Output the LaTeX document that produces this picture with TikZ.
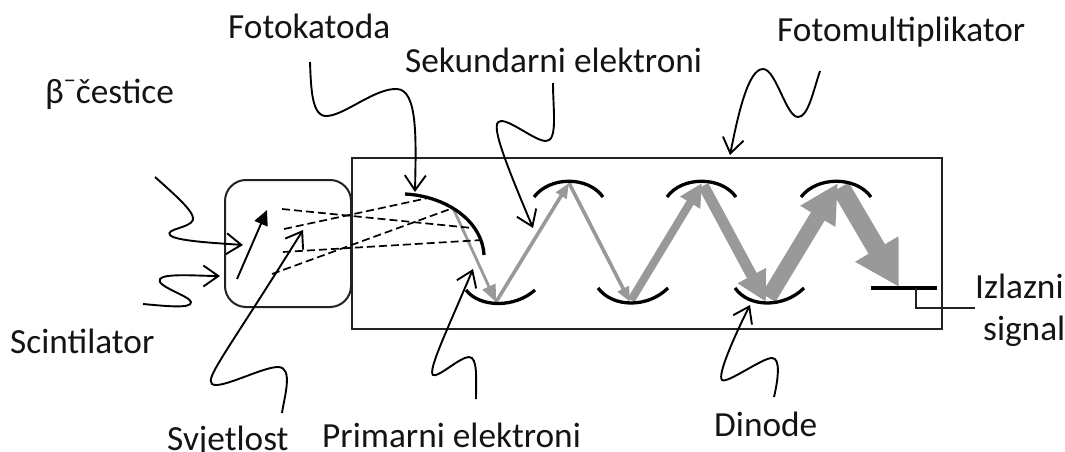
\documentclass[tikz,border=0pt]{standalone}
\usepackage{fontspec}
\setmainfont{Carlito}
\usetikzlibrary{arrows.meta}
\definecolor{elgray}{HTML}{999999}
\definecolor{framec}{HTML}{222222}
\tikzset{
  label text/.style={anchor=base west,inner sep=0pt,font=\fontsize{35.3}{37}\selectfont,text=black!92},
  frame/.style={draw=framec,line width=2pt,outer sep=0pt},
  dynode/.style={draw=black,line width=3.3pt,line cap=butt},
  dashray/.style={draw=black,line width=1.7pt,dash pattern=on 8pt off 4pt},
  pointer/.style={draw=black,line width=1.9pt,-{Straight Barb[length=15pt,width=21pt,line width=1.9pt]}},
  el/.style={draw=elgray,line width=#1},
}
\begin{document}
\begin{tikzpicture}[x=1pt,y=-1pt]
\useasboundingbox (0,0) rectangle (1065,452);
% texts
\node[label text] (fk) at (228,38) {Fotokatoda};
\node[label text] (be) at (45,103) {β\raisebox{0.42em}{\fontsize{24}{24}\selectfont −}čestice};
\node[label text] (se) at (405,72) {Sekundarni elektroni};
\node[label text] (fm) at (777,42) {Fotomultiplikator};
\node[label text] (sc) at (10,353) {Scintilator};
\node[label text] (sv) at (167,450) {Svjetlost};
\node[label text] (pe) at (322,447) {Primarni elektroni};
\node[label text] (di) at (714,436) {Dinode};
\node[label text] (iz) at (975,298) {Izlazni};
\node[label text] (si) at (983,340) {signal};
% housings
\node[frame,rectangle,minimum width=590pt,minimum height=171pt,inner sep=0pt,anchor=north west] (pmt) at (351.5,158) {};
\node[frame,rectangle,rounded corners=21pt,minimum width=126pt,minimum height=127pt,inner sep=0pt,anchor=north west] (sci) at (225,180) {};
% dynode hit points
\coordinate (k) at (453,208);
\coordinate (d1) at (496,302);
\coordinate (d2) at (569,183);
\coordinate (d3) at (630,302);
\coordinate (d4) at (702,183);
\coordinate (d5) at (766,302);
\coordinate (d6) at (838,183);
\coordinate (an) at (899,287);
% gray electron paths
\draw[el=2.8pt,-{Triangle[length=17pt,width=14pt]}] (k) -- (d1);
\draw[el=3.6pt,-{Triangle[length=15pt,width=12pt]}] (d1) -- (d2);
\draw[el=3.6pt,-{Triangle[length=15pt,width=12pt]}] (d2) -- (d3);
\draw[el=8pt,-{Triangle[length=23pt,width=22pt]},shorten <=2pt] (d3) -- (d4);
\draw[el=11pt,-{Triangle[length=30pt,width=30pt]},shorten <=3pt] (d4) -- (d5);
\draw[el=16pt,-{Triangle[length=39pt,width=38pt]},shorten <=5pt] (d5) -- (d6);
\draw[el=19pt,-{Triangle[length=44pt,width=47pt]},shorten <=5pt] (d6) -- (an);
% cathode and dynodes
\draw[dynode] (405,194) .. controls (445,196) and (482,220) .. (484,255);
\draw[dynode] (466,290) .. controls (480,308) and (515,308) .. (535,290);
\draw[dynode] (534,197) .. controls (550,176) and (588,176) .. (603,197);
\draw[dynode] (598,288) .. controls (613,308) and (648,308) .. (668,288);
\draw[dynode] (667,197) .. controls (682,176) and (721,176) .. (736,197);
\draw[dynode] (735,288) .. controls (749,308) and (784,308) .. (804,288);
\draw[dynode] (801,197) .. controls (817,176) and (856,176) .. (871,197);
% anode and output
\coordinate (anl) at (871,288);
\coordinate (anr) at (937,288);
\coordinate (antap) at (916,288);
\coordinate (out) at (975,308);
\draw[dynode] (anl) -- (anr);
\draw[draw=framec,line width=1.8pt] (antap) |- (out);
% light rays
\draw[dashray] (282,209) -- (472,228);
\draw[dashray] (284,229) -- (428,198);
\draw[dashray] (283,252) -- (482,240);
\draw[dashray] (272,274) -- (k);
% beta track
\coordinate (bs) at (237,279);
\coordinate (be2) at (267,210);
\draw[line width=1.9pt,-{Triangle[length=15pt,width=14pt]}] (bs) -- (be2);
% wavy pointers
\coordinate (a1) at (155,177); \coordinate (a1e) at (243,245);
\draw[pointer] (a1) .. controls (175,195) and (195,212) .. (193,220) .. controls (190,228) and (165,229) .. (170,235) .. controls (175,241) and (215,243) .. (a1e);
\coordinate (a2) at (143,304); \coordinate (a2e) at (220,276);
\draw[pointer] (a2) .. controls (165,306) and (192,309) .. (191,302) .. controls (190,296) and (155,286) .. (160,279) .. controls (164,273) and (200,276) .. (a2e);
\coordinate (a3) at (310,62); \coordinate (a3e) at (415,192);
\draw[pointer] (a3) .. controls (311,90) and (312,117) .. (327,116) .. controls (345,115) and (375,88) .. (397,89) .. controls (418,90) and (416,140) .. (a3e);
\coordinate (a4) at (553,83); \coordinate (a4e) at (533,228);
\draw[pointer] (a4) .. controls (553,110) and (558,141) .. (546,141) .. controls (535,141) and (512,121) .. (501,121) .. controls (490,121) and (500,150) .. (a4e);
\coordinate (a5) at (820,71); \coordinate (a5e) at (730,155);
\draw[pointer] (a5) .. controls (813,92) and (808,117) .. (798,117) .. controls (786,117) and (776,69) .. (763,69) .. controls (748,69) and (738,115) .. (a5e);
\coordinate (a6) at (282,413); \coordinate (a6e) at (303,230);
\draw[pointer] (a6) .. controls (284,398) and (294,367) .. (278,367) .. controls (262,367) and (220,390) .. (212,384) .. controls (205,378) and (225,355) .. (a6e);
\coordinate (a7) at (476,399); \coordinate (a7e) at (473,269);
\draw[pointer] (a7) .. controls (476,380) and (478,357) .. (469,357) .. controls (460,357) and (438,378) .. (433,375) .. controls (428,370) and (445,335) .. (a7e);
\coordinate (a8) at (774,397); \coordinate (a8e) at (750,305);
\draw[pointer] (a8) .. controls (778,380) and (781,358) .. (772,358) .. controls (762,358) and (727,384) .. (722,380) .. controls (717,375) and (735,335) .. (a8e);
\end{tikzpicture}
\end{document}
